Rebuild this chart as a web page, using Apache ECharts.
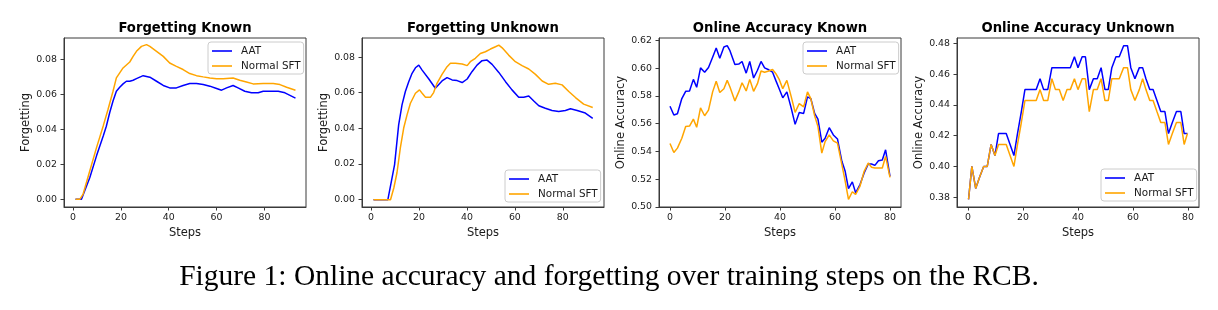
<!DOCTYPE html>
<html>
<head>
<meta charset="utf-8">
<script src="https://cdn.jsdelivr.net/npm/echarts@6/dist/echarts.min.js"></script>
<style>
  html, body { margin: 0; padding: 0; background: #fff; }
  #chart { width: 1218px; height: 310px; }
</style>
</head>
<body>
<div id="chart"></div>
<script>
// ---- Forgetting Known ----
var fkStepsAAT = [1, 3.5, 4.2, 7.0, 9.8, 12.6, 13.9, 15.3, 16.7, 18.1, 19.5, 20.9, 22.3, 23.7, 25.1, 26.5, 29.3, 32.1, 34.9, 37.7,
  40.4, 43.2, 46.0, 48.8, 51.6, 54.4, 57.2, 60.0, 62.1, 64.2, 66.9, 69.0, 71.8, 74.6, 77.4, 79.5, 82.3, 85.8, 88.6, 93.0];
var fkAAT = [0, 0, 0.0003, 0.0125, 0.0248, 0.0362, 0.0417, 0.0494, 0.0561, 0.0617, 0.0640, 0.0659, 0.0674, 0.0674, 0.0680, 0.0689, 0.0706, 0.0697, 0.0674, 0.0650,
  0.0636, 0.0636, 0.0650, 0.0661, 0.0661, 0.0655, 0.0646, 0.0633, 0.0623, 0.0636, 0.0650, 0.0636, 0.0617, 0.0608, 0.0608, 0.0617, 0.0617, 0.0617, 0.0608, 0.0578];
var fkStepsSFT = [1, 2.8, 4.2, 7.0, 9.8, 12.6, 14.6, 16.7, 18.1, 19.5, 20.9, 23.7, 25.1, 26.5, 28.6, 30.7, 32.1, 34.9, 37.7, 40.4,
  43.2, 46.0, 48.8, 51.6, 54.4, 57.2, 60.0, 62.8, 66.9, 69.7, 72.5, 75.3, 79.5, 83.7, 86.5, 89.3, 93.0];
var fkSFT = [0, 0, 0.0030, 0.0163, 0.0295, 0.0419, 0.0513, 0.0617, 0.0693, 0.0722, 0.0750, 0.0784, 0.0816, 0.0845, 0.0873, 0.0883, 0.0873, 0.0845, 0.0816, 0.0778,
  0.0759, 0.0741, 0.0718, 0.0706, 0.0699, 0.0693, 0.0689, 0.0689, 0.0693, 0.0680, 0.0670, 0.0659, 0.0661, 0.0661, 0.0655, 0.0640, 0.0623];

// ---- Forgetting Unknown ----
var fuStepsAAT = [1, 7.0, 9.8, 11.5, 12.9, 14.3, 15.7, 17.1, 18.5, 19.9, 21.3, 24.1, 26.8, 29.6, 31.7, 33.8, 35.9, 38.0, 40.1, 42.1,
  44.2, 46.3, 48.4, 50.5, 53.3, 56.1, 58.8, 61.6, 63.7, 65.8, 67.9, 70.0, 72.7, 75.5, 78.3, 81.1, 83.2, 86.0, 89.4, 92.5];
var fuAAT = [0, 0, 0.0197, 0.0420, 0.0532, 0.0607, 0.0662, 0.0709, 0.0740, 0.0755, 0.0727, 0.0677, 0.0625, 0.0666, 0.0685, 0.0672, 0.0668, 0.0657, 0.0677, 0.0718,
  0.0755, 0.0780, 0.0783, 0.0759, 0.0714, 0.0662, 0.0616, 0.0575, 0.0575, 0.0582, 0.0554, 0.0527, 0.0513, 0.0500, 0.0495, 0.0500, 0.0510, 0.0500, 0.0486, 0.0456];
var fuStepsSFT = [1, 8.1, 9.5, 10.8, 12.2, 13.6, 15.0, 16.4, 18.5, 20.2, 21.3, 22.7, 24.8, 26.1, 27.5, 29.6, 31.7, 33.1, 35.2, 38.0,
  40.1, 41.4, 43.5, 45.6, 47.7, 49.8, 51.9, 53.3, 54.7, 57.4, 60.2, 63.0, 65.8, 68.6, 71.4, 74.1, 76.9, 79.7, 82.5, 85.3, 88.7, 92.5];
var fuSFT = [0, 0, 0.0067, 0.0151, 0.0290, 0.0402, 0.0476, 0.0541, 0.0597, 0.0616, 0.0597, 0.0575, 0.0575, 0.0601, 0.0653, 0.0703, 0.0746, 0.0765, 0.0765, 0.0761,
  0.0752, 0.0774, 0.0793, 0.0820, 0.0830, 0.0845, 0.0858, 0.0867, 0.0852, 0.0811, 0.0774, 0.0752, 0.0733, 0.0703, 0.0666, 0.0647, 0.0653, 0.0644, 0.0607, 0.0573, 0.0536, 0.0517];

// ---- Online Accuracy Known ----
var okSteps = [0, 1.4, 2.7, 4.3, 5.7, 7.1, 8.5, 9.7, 11.1, 12.6, 14.0, 15.5, 16.8, 18.1, 19.6, 20.8, 21.8, 23.6, 25.0, 26.2,
  27.7, 29.0, 30.4, 31.8, 33.1, 34.4, 35.9, 37.3, 38.5, 39.7, 41.0, 42.5, 44.1, 45.5, 47.0, 48.6, 50.0, 51.2, 52.6, 53.8,
  55.2, 56.4, 57.9, 59.4, 60.9, 62.5, 63.7, 64.9, 66.3, 67.5, 69.1, 70.6, 72.1, 73.3, 74.5, 75.8, 77.2, 78.4, 80.0];
var okAAT = [0.5726, 0.5662, 0.5671, 0.5781, 0.5833, 0.5836, 0.5919, 0.5862, 0.6002, 0.5971, 0.6005, 0.6079, 0.6145, 0.6071, 0.6152, 0.6162, 0.6126, 0.6026, 0.6029, 0.6048,
  0.5964, 0.6048, 0.5929, 0.5985, 0.6048, 0.6002, 0.5988, 0.5971, 0.5910, 0.5852, 0.5786, 0.5829, 0.5710, 0.5595, 0.5681, 0.5674, 0.5793, 0.5781, 0.5674, 0.5633,
  0.5467, 0.5495, 0.5571, 0.5519, 0.5490, 0.5329, 0.5257, 0.5133, 0.5181, 0.5102, 0.5162, 0.5245, 0.5310, 0.5310, 0.5300, 0.5333, 0.5338, 0.5412, 0.5221];
var okSFT = [0.5457, 0.5393, 0.5424, 0.5495, 0.5579, 0.5583, 0.5633, 0.5574, 0.5714, 0.5657, 0.5698, 0.5829, 0.5905, 0.5824, 0.5852, 0.5912, 0.5864, 0.5764, 0.5829, 0.5895,
  0.5836, 0.5919, 0.5833, 0.5888, 0.5979, 0.5971, 0.5979, 0.5990, 0.5960, 0.5919, 0.5852, 0.5912, 0.5793, 0.5681, 0.5745, 0.5721, 0.5829, 0.5781, 0.5657, 0.5579,
  0.5388, 0.5471, 0.5519, 0.5476, 0.5460, 0.5305, 0.5186, 0.5055, 0.5110, 0.5090, 0.5150, 0.5257, 0.5317, 0.5286, 0.5281, 0.5281, 0.5281, 0.5364, 0.5214];

// ---- Online Accuracy Unknown ----
var ouSteps = [0.2, 1.4, 2.8, 4.2, 5.7, 7.0, 8.4, 9.8, 11.1, 12.5, 13.9, 15.3, 16.7, 18.0, 19.4, 20.7, 22.1, 23.4, 24.8, 26.2,
  27.5, 29.0, 30.5, 31.8, 33.2, 34.6, 36.0, 37.2, 38.7, 40.0, 41.5, 42.7, 44.1, 45.6, 47.0, 48.4, 49.8, 51.0, 52.3, 53.8,
  55.0, 56.6, 58.0, 59.2, 60.7, 62.3, 63.5, 64.7, 66.1, 67.3, 68.7, 70.1, 71.6, 72.9, 74.3, 75.8, 77.4, 78.6, 79.8];
var ouAAT = [0.3786, 0.4000, 0.3857, 0.3929, 0.4000, 0.4000, 0.4143, 0.4071, 0.4214, 0.4214, 0.4214, 0.4143, 0.4071, 0.4214, 0.4357, 0.4500, 0.4500, 0.4500, 0.4500, 0.4571,
  0.4500, 0.4500, 0.4643, 0.4643, 0.4643, 0.4643, 0.4643, 0.4643, 0.4714, 0.4643, 0.4714, 0.4714, 0.4500, 0.4571, 0.4571, 0.4643, 0.4500, 0.4500, 0.4643, 0.4714,
  0.4714, 0.4786, 0.4786, 0.4643, 0.4571, 0.4643, 0.4643, 0.4571, 0.4500, 0.4500, 0.4429, 0.4357, 0.4357, 0.4214, 0.4286, 0.4357, 0.4357, 0.4214, 0.4214];
var ouSFT = [0.3786, 0.4000, 0.3857, 0.3929, 0.4000, 0.4000, 0.4143, 0.4071, 0.4143, 0.4143, 0.4143, 0.4071, 0.4000, 0.4143, 0.4286, 0.4429, 0.4429, 0.4429, 0.4429, 0.4500,
  0.4429, 0.4429, 0.4571, 0.4500, 0.4500, 0.4429, 0.4500, 0.4500, 0.4571, 0.4500, 0.4571, 0.4571, 0.4357, 0.4500, 0.4500, 0.4571, 0.4429, 0.4429, 0.4571, 0.4571,
  0.4571, 0.4643, 0.4643, 0.4500, 0.4429, 0.4500, 0.4571, 0.4500, 0.4429, 0.4429, 0.4357, 0.4286, 0.4286, 0.4143, 0.4214, 0.4286, 0.4286, 0.4143, 0.4214];

var stepTicks = [0, 20, 40, 60, 80];
var forgetTicks = [0, 0.02, 0.04, 0.06, 0.08];
var accKnownTicks = [0.50, 0.52, 0.54, 0.56, 0.58, 0.60, 0.62];
var accUnknownTicks = [0.38, 0.40, 0.42, 0.44, 0.46, 0.48];

var titles = ['Forgetting Known', 'Forgetting Unknown', 'Online Accuracy Known', 'Online Accuracy Unknown'];
var yNames = ['Forgetting', 'Forgetting', 'Online Accuracy', 'Online Accuracy'];
var caption = 'Figure 1: Online accuracy and forgetting over training steps on the RCB.';

function zip(xs, ys) {
  return xs.map(function (x, i) { return [x, ys[i]]; });
}

var BLUE = '#0000ff', ORANGE = '#ffa500', INK = '#1a1a1a', FRAME = '#3a3a3a';
var FONT = 'DejaVu Sans';

var panels = [
  { left: 64,  xMin: -3.8, xMax: 97.4, yMin: -0.0044, yMax: 0.0921, yTicks: forgetTicks,
    aat: zip(fkStepsAAT, fkAAT), sft: zip(fkStepsSFT, fkSFT), legend: { left: 208, top: 42 } },
  { left: 362, xMin: -3.8, xMax: 97.2, yMin: -0.0041, yMax: 0.0907, yTicks: forgetTicks,
    aat: zip(fuStepsAAT, fuAAT), sft: zip(fuStepsSFT, fuSFT), legend: { left: 505, top: 170 } },
  { left: 659, xMin: -4, xMax: 84, yMin: 0.5, yMax: 0.6217, yTicks: accKnownTicks,
    aat: zip(okSteps, okAAT), sft: zip(okSteps, okSFT), legend: { left: 803, top: 42 } },
  { left: 957, xMin: -4, xMax: 84, yMin: 0.3736, yMax: 0.4836, yTicks: accUnknownTicks,
    aat: zip(ouSteps, ouAAT), sft: zip(ouSteps, ouSFT), legend: { left: 1101, top: 169 } }
];

var option = {
  backgroundColor: '#fff',
  animation: false,
  title: [],
  legend: [],
  grid: [],
  xAxis: [],
  yAxis: [],
  series: []
};

panels.forEach(function (p, i) {
  option.grid.push({
    left: p.left, top: 38, width: 242, height: 169,
    show: true, borderColor: FRAME, borderWidth: 1, backgroundColor: '#fff'
  });
  option.title.push({
    text: titles[i], left: p.left + 121, top: 22, padding: 0, textAlign: 'center',
    textStyle: { fontFamily: FONT, fontSize: 13.2, fontWeight: 'bold', color: '#000' }
  });
  option.xAxis.push({
    type: 'value', gridIndex: i, min: p.xMin, max: p.xMax,
    name: 'Steps', nameLocation: 'middle', nameGap: 18,
    nameTextStyle: { fontFamily: FONT, fontSize: 11.5, color: INK },
    axisLine: { show: true, onZero: false, lineStyle: { color: FRAME, width: 1 } },
    axisTick: { show: true, length: 3.5, customValues: stepTicks, lineStyle: { color: FRAME } },
    axisLabel: { customValues: stepTicks, margin: 6, fontFamily: FONT, fontSize: 9.4, color: INK },
    splitLine: { show: false }
  });
  option.yAxis.push({
    type: 'value', gridIndex: i, min: p.yMin, max: p.yMax,
    name: yNames[i], nameLocation: 'middle', nameGap: 29,
    nameTextStyle: { fontFamily: FONT, fontSize: 11.5, color: INK },
    axisLine: { show: true, onZero: false, lineStyle: { color: FRAME, width: 1 } },
    axisTick: { show: true, length: 3.5, customValues: p.yTicks, lineStyle: { color: FRAME } },
    axisLabel: {
      customValues: p.yTicks, margin: 7, fontFamily: FONT, fontSize: 9.4, color: INK,
      formatter: function (v) { return v.toFixed(2); }
    },
    splitLine: { show: false }
  });
  option.series.push({
    name: 'AAT', type: 'line', xAxisIndex: i, yAxisIndex: i, data: p.aat,
    showSymbol: false, color: BLUE, lineStyle: { width: 1.5, color: BLUE }
  });
  option.series.push({
    name: 'Normal SFT', type: 'line', xAxisIndex: i, yAxisIndex: i, data: p.sft,
    showSymbol: false, color: ORANGE, lineStyle: { width: 1.5, color: ORANGE }
  });
  option.legend.push({
    left: p.legend.left, top: p.legend.top, orient: 'vertical',
    data: ['AAT', 'Normal SFT'], icon: 'rect', itemWidth: 20, itemHeight: 1.6, itemGap: 3,
    padding: [3, 3, 2, 4], backgroundColor: '#fff', borderColor: '#cccccc', borderWidth: 1, borderRadius: 3,
    selectedMode: false,
    textStyle: { fontFamily: FONT, fontSize: 10.4, color: INK, lineHeight: 12, padding: [0, 0, 0, 4] }
  });
});

option.title.push({
  text: caption, left: 609, top: 262, padding: 0, textAlign: 'center',
  textStyle: { fontFamily: 'Liberation Serif', fontSize: 29.5, lineHeight: 29.5, fontWeight: 'normal', color: '#000' }
});

var chart = echarts.init(document.getElementById('chart'), null, { renderer: 'canvas' });
chart.setOption(option);
</script>
</body>
</html>
